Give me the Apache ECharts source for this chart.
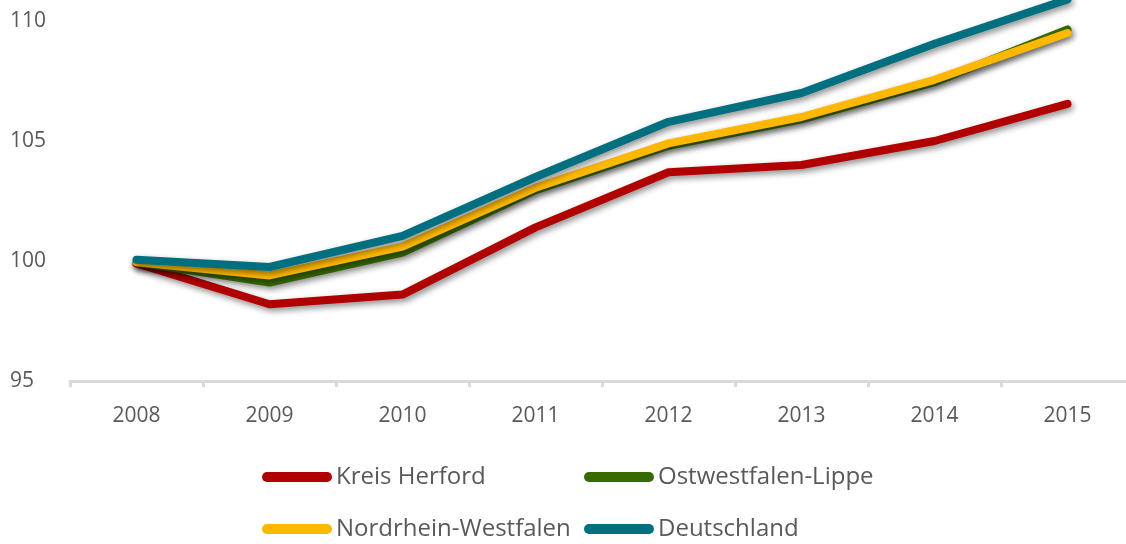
<!DOCTYPE html>
<html>
<head>
<meta charset="utf-8">
<script src="https://cdn.jsdelivr.net/npm/echarts@6/dist/echarts.min.js"></script>
<style>
  html, body { margin: 0; padding: 0; background: #fff; }
  #mychart { width: 1126px; height: 544px; }
</style>
</head>
<body>
<div id="mychart"></div>
<script>
// Jahre (x-Achse)
const years = ["2008", "2009", "2010", "2011", "2012", "2013", "2014", "2015"];
// Index 2008 = 100
const kreisHerford = [99.9, 98.2, 98.6, 101.4, 103.7, 104.0, 105.0, 106.55];
const owl = [99.95, 99.1, 100.35, 102.95, 104.8, 105.9, 107.45, 109.65];
const nrw = [99.95, 99.4, 100.6, 103.05, 104.9, 106.0, 107.55, 109.5];
const deutschland = [100.05, 99.75, 101.05, 103.5, 105.8, 107.0, 109.05, 110.9];
const yTicks = [95, 100, 105, 110];

const names = ["Kreis Herford", "Ostwestfalen-Lippe", "Nordrhein-Westfalen", "Deutschland"];
const colors = ["#B00000", "#376A00", "#FFB800", "#006F80"];
const values = [kreisHerford, owl, nrw, deutschland];

const font = "'Open Sans', 'Noto Sans', sans-serif";
const capsule = "path://M5,0 H65 A5,5 0 0 1 65,10 H5 A5,5 0 0 1 5,0 Z";

function legendRow(top, items) {
  return {
    top: top,
    left: 262,
    padding: 0,
    itemGap: 0,
    itemWidth: 70,
    itemHeight: 10,
    icon: capsule,
    data: items,
    textStyle: {
      fontFamily: font,
      fontSize: 24,
      color: "#595959",
      width: 248,
      lineHeight: 28,
      padding: [0, 0, 0, -1]
    }
  };
}

const myChart = echarts.init(document.getElementById("mychart"));
const option = {
  animation: false,
  color: colors,
  // Achse läuft rechts über den Rand hinaus
  grid: { left: 70, width: 1064, top: 21, bottom: 163, outerBoundsMode: "none" },
  legend: [
    legendRow(463, [names[0], names[1]]),
    legendRow(515, [names[2], names[3]])
  ],
  xAxis: {
    type: "category",
    data: years,
    boundaryGap: true,
    axisLine: { lineStyle: { color: "#d9d9d9", width: 3 } },
    axisTick: { show: true, length: 6, lineStyle: { color: "#d9d9d9", width: 3 } },
    axisLabel: { fontFamily: font, fontSize: 21, color: "#595959", margin: 25 }
  },
  yAxis: {
    type: "value",
    min: yTicks[0],
    max: yTicks[yTicks.length - 1],
    interval: 5,
    axisLine: { show: false },
    axisTick: { show: false },
    splitLine: { show: false },
    axisLabel: {
      fontFamily: font,
      fontSize: 21,
      color: "#595959",
      align: "left",
      margin: 60
    }
  },
  series: values.map((d, i) => ({
    name: names[i],
    type: "line",
    data: d,
    clip: false,
    showSymbol: false,
    symbol: "none",
    lineStyle: {
      width: 8,
      color: colors[i],
      cap: "round",
      join: "round",
      shadowColor: "rgba(0,0,0,0.45)",
      shadowBlur: 6,
      shadowOffsetX: 2,
      shadowOffsetY: 3
    },
    itemStyle: { color: colors[i] }
  }))
};
myChart.setOption(option);
window.addEventListener("resize", () => {
  myChart.resize();
});
</script>
</body>
</html>
